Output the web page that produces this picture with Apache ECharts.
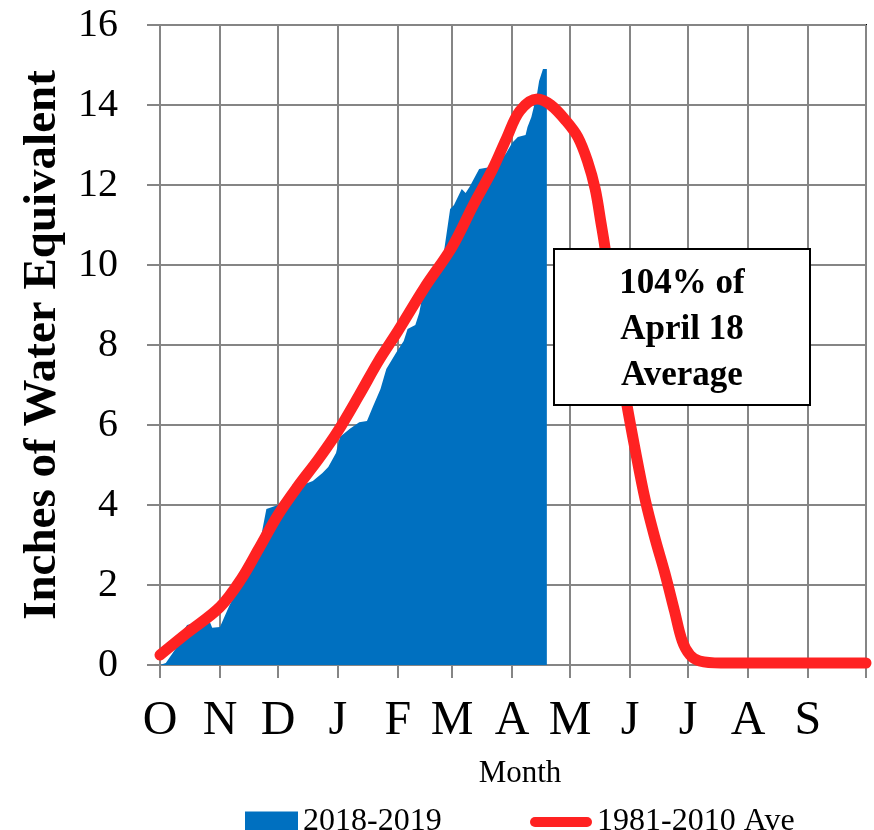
<!DOCTYPE html>
<html>
<head>
<meta charset="utf-8">
<script src="https://cdn.jsdelivr.net/npm/echarts@6/dist/echarts.min.js"></script>
<style>
html,body{margin:0;padding:0;background:#fff;}
#chart{width:874px;height:830px;}
</style>
</head>
<body>
<div id="chart"></div>
<script>
// Day index 0 = Oct 1, 365 = next Oct 1
var monthStarts = [0, 31, 61, 92, 123, 151, 182, 212, 243, 273, 304, 335, 365];
var monthLabels = ['O', 'N', 'D', 'J', 'F', 'M', 'A', 'M', 'J', 'J', 'A', 'S', ''];
var yTicks = [0, 2, 4, 6, 8, 10, 12, 14, 16];

// 2018-2019 snow water equivalent: [day, inches]
var wy2019 = [
  [0, 0], [3, 0.05], [8, 0.4], [12, 0.85], [14, 1.0], [18, 1.05], [23, 1.1], [26, 1.05],
  [27, 0.93], [31, 0.95], [36, 1.5], [44, 2.2], [51, 2.9], [55, 3.9], [58, 3.95],
  [61, 4.0], [66, 4.3], [71, 4.45], [79, 4.6], [84, 4.8], [87, 4.95], [91, 5.3],
  [93, 5.7], [98, 5.9], [103, 6.07], [107, 6.1], [110, 6.45], [114, 6.9], [117, 7.4],
  [122, 7.8], [126, 8.1], [128, 8.4], [132, 8.5], [134, 8.8], [136, 9.3], [138, 9.55],
  [141, 9.7], [145, 9.9], [147, 10.4], [150, 11.4], [152, 11.5], [156, 11.9],
  [158, 11.8], [160, 11.95], [165, 12.4], [171, 12.45], [176, 12.6], [179, 12.8],
  [182, 13.05], [185, 13.2], [189, 13.25], [190, 13.45], [192, 13.7], [195, 14.3],
  [196, 14.6], [198, 14.9], [200, 14.9]
];

// 1981-2010 average: [day, inches]
var avg8110 = [
  [0, 0.25], [14, 0.8], [31, 1.45], [42, 2.15], [51, 2.9], [61, 3.75], [71, 4.45],
  [82, 5.15], [92, 5.85], [103, 6.75], [113, 7.6], [123, 8.35], [137, 9.45], [151, 10.45],
  [162, 11.5], [172, 12.4], [179, 13.15], [186, 13.85], [195, 14.15], [202, 14.0],
  [210, 13.6], [216, 13.2], [221, 12.6], [225, 11.9], [228, 11.05], [230, 10.45],
  [235, 8.6], [240, 6.9], [246, 5.3], [251, 4.1], [256, 3.15], [261, 2.3], [266, 1.35],
  [270, 0.6], [274, 0.25], [279, 0.1], [290, 0.05], [330, 0.05], [365, 0.05]
];

var seriesNames = ['2018-2019', '1981-2010 Ave'];
var annotation = '104% of\nApril 18\nAverage';

var days = [];
for (var i = 0; i <= 365; i++) days.push(i);
var labelByDay = {};
monthStarts.forEach(function (d, k) { labelByDay[d] = monthLabels[k]; });
function isMonthStart(idx) { return labelByDay.hasOwnProperty(idx); }

var serif = "'Liberation Serif','Times New Roman',serif";
var gridGray = '#858585';

var chart = echarts.init(document.getElementById('chart'));
chart.setOption({
  animation: false,
  backgroundColor: '#fff',
  grid: {
    left: 160, right: 8, top: 25, bottom: 165,
    show: true, borderColor: '#000', borderWidth: 2, backgroundColor: '#fff'
  },
  legend: [
    {
      data: [{ name: seriesNames[0], icon: 'rect' }],
      left: 245, top: 806, itemWidth: 53, itemHeight: 21, padding: 0,
      textStyle: { fontFamily: serif, fontSize: 32, color: '#000' }
    },
    {
      data: [{ name: seriesNames[1], icon: 'path://M5,0 L57,0 A5,5 0 0 1 57,10 L5,10 A5,5 0 0 1 5,0 Z' }],
      left: 530, top: 806, itemWidth: 62, itemHeight: 11, padding: 0,
      textStyle: { fontFamily: serif, fontSize: 32, color: '#000' }
    }
  ],
  xAxis: {
    type: 'category',
    data: days,
    boundaryGap: false,
    name: 'Month',
    nameLocation: 'middle',
    nameGap: 93,
    nameTextStyle: { fontFamily: serif, fontSize: 31, color: '#000', padding: [0, 0, 0, 14] },
    axisLine: { show: true, lineStyle: { color: gridGray, width: 2 } },
    axisTick: {
      show: true, interval: function (idx) { return isMonthStart(idx); },
      length: 13, lineStyle: { color: gridGray, width: 2 }
    },
    axisLabel: {
      interval: function (idx) { return isMonthStart(idx); },
      formatter: function (v, idx) { return labelByDay[idx] || ''; },
      fontFamily: serif, fontSize: 48, color: '#000', margin: 32
    },
    splitLine: {
      show: true, interval: function (idx) { return isMonthStart(idx); },
      lineStyle: { color: gridGray, width: 2 }
    }
  },
  yAxis: {
    type: 'value',
    min: yTicks[0], max: yTicks[yTicks.length - 1], interval: 2,
    name: 'Inches of Water Equivalent',
    nameLocation: 'middle',
    nameGap: 94,
    nameRotate: 90,
    nameTextStyle: { fontFamily: serif, fontSize: 47, fontWeight: 'bold', color: '#000' },
    axisLine: { show: true, lineStyle: { color: gridGray, width: 2 } },
    axisTick: { show: true, length: 13, lineStyle: { color: gridGray, width: 2 } },
    axisLabel: { fontFamily: serif, fontSize: 40, color: '#000', margin: 42 },
    splitLine: { show: true, lineStyle: { color: gridGray, width: 2 } }
  },
  series: [
    {
      name: seriesNames[0],
      type: 'line',
      data: wy2019,
      symbol: 'none',
      lineStyle: { width: 0, color: '#0070C0' },
      itemStyle: { color: '#0070C0' },
      areaStyle: { color: '#0070C0', opacity: 1 },
      z: 2
    },
    {
      name: seriesNames[1],
      type: 'line',
      data: avg8110,
      symbol: 'none',
      smooth: 0.35,
      lineStyle: { width: 11, color: '#FF2222', cap: 'round', join: 'round' },
      itemStyle: { color: '#FF2222' },
      z: 3
    }
  ],
  graphic: [
    {
      type: 'rect', z: 100,
      shape: { x: 554, y: 249, width: 256, height: 156 },
      style: { fill: '#fff', stroke: '#000', lineWidth: 2 }
    },
    {
      type: 'text', z: 101,
      x: 682, y: 330,
      style: {
        text: annotation, fill: '#000',
        font: "bold 35px 'Liberation Serif','Times New Roman',serif",
        lineHeight: 46, align: 'center', verticalAlign: 'middle'
      }
    }
  ]
});
</script>
</body>
</html>
